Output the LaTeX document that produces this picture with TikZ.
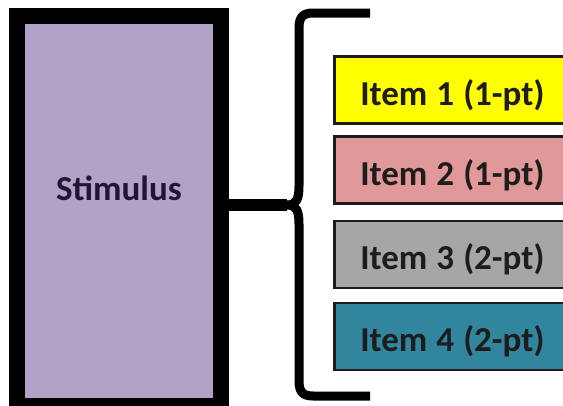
\documentclass[tikz,border=0pt]{standalone}
\usepackage{fontspec}
\setmainfont{Carlito}
\definecolor{stimfill}{RGB}{179,162,199}
\definecolor{stimtext}{RGB}{32,22,52}
\definecolor{itemyellow}{RGB}{255,255,0}
\definecolor{itempink}{RGB}{224,152,152}
\definecolor{itemgray}{RGB}{166,166,166}
\definecolor{itemteal}{RGB}{49,133,156}
\definecolor{itemtext}{RGB}{30,28,30}
\definecolor{itemborder}{RGB}{28,28,28}
\newcommand{\myBigFont}{\fontsize{35}{40}\selectfont\bfseries}
\newcommand{\tightsp}{\spaceskip 0.26em plus 0.02em\relax}
\begin{document}
\begin{tikzpicture}[x=1pt,y=-1pt,
  bigfont/.style={font=\myBigFont},
  stimbox/.style={draw=black,line width=16pt,fill=stimfill,rectangle,minimum width=204pt,minimum height=390pt,inner sep=0pt},
  itembox/.style={draw=itemborder,line width=2.5pt,rectangle,anchor=west,minimum height=67pt,
    text width=280pt,inner xsep=26pt,inner ysep=0pt,align=left,bigfont,text=itemtext,
    text height=30pt,text depth=0pt},
  brace/.style={draw=black,line width=9pt,line cap=butt,line join=round},
  conn/.style={draw=black,line width=12pt}]
\useasboundingbox (0,0) rectangle (563,405);
\clip (0,0) rectangle (563,405);
\fill[white] (0,0) rectangle (563,405);
% stimulus
\node[stimbox] (stim) at (119,211) {};
\node[bigfont,text=stimtext,anchor=base] (stimlabel) at (119,200) {Stimulus};
% items
\node[itembox,fill=itemyellow] (item1) at (333,90) {\tightsp Item 1 (1-pt)};
\node[itembox,fill=itempink] (item2) at (333,170) {\tightsp Item 2 (1-pt)};
\node[itembox,fill=itemgray] (item3) at (333,254.5) {\tightsp Item 3 (2-pt)};
\node[itembox,fill=itemteal] (item4) at (333,336.5) {\tightsp Item 4 (2-pt)};
% brace
\coordinate (tip) at (287,205);
\coordinate (btop) at (370,13);
\coordinate (bbot) at (370,396);
\draw[brace] (btop) -- (313,13) .. controls (303,13) and (299,17) .. (299,28)
  -- (299,186) .. controls (299,200) and (296,205) .. (tip)
  .. controls (296,205) and (299,210) .. (299,224)
  -- (299,381) .. controls (299,392) and (303,396) .. (313,396) -- (bbot);
\draw[conn] (stim.east |- tip) -- (tip);
\end{tikzpicture}
\end{document}
